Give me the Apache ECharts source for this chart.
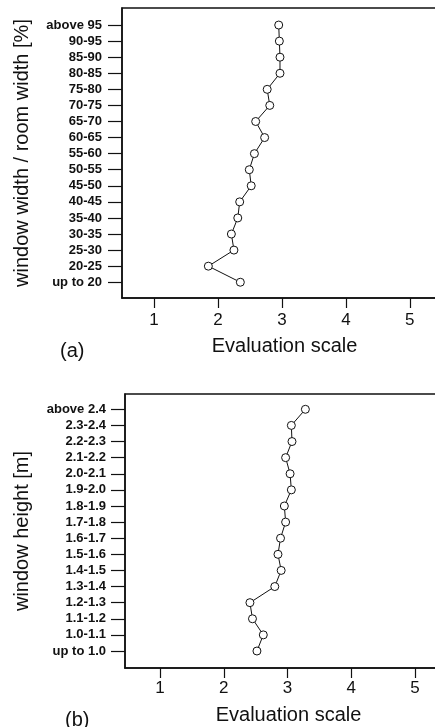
<!DOCTYPE html>
<html>
<head>
<meta charset="utf-8">
<title>Evaluation scale</title>
<script src="https://cdn.jsdelivr.net/npm/echarts@6/dist/echarts.min.js"></script>
<style>
  html, body { margin: 0; padding: 0; background: #fff; }
  #chart { width: 435px; height: 727px; }
</style>
</head>
<body>
<div id="chart"></div>
<script>
  'use strict'

  /*---- data (listed bottom to top) ----*/
  var widthCats = ['up to 20', '20-25', '25-30', '30-35', '35-40', '40-45', '45-50', '50-55',
    '55-60', '60-65', '65-70', '70-75', '75-80', '80-85', '85-90', '90-95', 'above 95'];
  var widthVals = [2.35, 1.85, 2.25, 2.21, 2.31, 2.34, 2.52, 2.49,
    2.57, 2.73, 2.59, 2.81, 2.77, 2.97, 2.97, 2.96, 2.95];

  var heightCats = ['up to 1.0', '1.0-1.1', '1.1-1.2', '1.2-1.3', '1.3-1.4', '1.4-1.5', '1.5-1.6', '1.6-1.7',
    '1.7-1.8', '1.8-1.9', '1.9-2.0', '2.0-2.1', '2.1-2.2', '2.2-2.3', '2.3-2.4', 'above 2.4'];
  var heightVals = [2.52, 2.62, 2.45, 2.41, 2.80, 2.90, 2.85, 2.89,
    2.97, 2.95, 3.06, 3.04, 2.97, 3.07, 3.06, 3.28];

  var xTicks = [1, 2, 3, 4, 5];
  /*---- end data ----*/

  var FONT = '"Liberation Sans", Arial, Helvetica, sans-serif';

  function pairs(vals) {
    return vals.map(function (v, i) { return [v, i]; });
  }
  function idxList(cats) {
    return cats.map(function (c, i) { return i; });
  }

  function xAxisOpt(gridIndex, min, max, margin, gap) {
    return {
      type: 'value',
      gridIndex: gridIndex,
      position: 'bottom',
      min: min,
      max: max,
      name: 'Evaluation scale',
      nameLocation: 'middle',
      nameGap: gap,
      nameTextStyle: { fontFamily: FONT, fontSize: 20, color: '#111', padding: [0, 14, 0, 0] },
      axisLine: { show: true, onZero: false, lineStyle: { color: '#111', width: 1.5 } },
      axisTick: { show: true, customValues: xTicks, length: 10, inside: false, lineStyle: { color: '#111', width: 1.2 } },
      axisLabel: { customValues: xTicks, margin: margin, fontFamily: FONT, fontSize: 17, color: '#111' },
      splitLine: { show: false }
    };
  }

  function yAxisOpt(gridIndex, cats, min, max, name, gap, margin) {
    return {
      type: 'value',
      gridIndex: gridIndex,
      position: 'left',
      min: min,
      max: max,
      name: name,
      nameLocation: 'middle',
      nameGap: gap,
      nameTextStyle: { fontFamily: FONT, fontSize: 20, color: '#111' },
      axisLine: { show: true, onZero: false, lineStyle: { color: '#111', width: 1.5 } },
      axisTick: { show: true, customValues: idxList(cats), length: 14, inside: false, lineStyle: { color: '#111', width: 1.2 } },
      axisLabel: {
        customValues: idxList(cats),
        margin: margin,
        fontFamily: FONT,
        fontSize: 13,
        fontWeight: 'bold',
        color: '#111',
        formatter: function (v) { return cats[Math.round(v)]; }
      },
      splitLine: { show: false }
    };
  }

  function lineSeries(xi, yi, vals) {
    return {
      type: 'line',
      xAxisIndex: xi,
      yAxisIndex: yi,
      data: pairs(vals),
      symbol: 'circle',
      symbolSize: 8,
      showAllSymbol: true,
      itemStyle: { color: '#fff', borderColor: '#111', borderWidth: 1 },
      lineStyle: { color: '#111', width: 1 },
      emphasis: { disabled: true },
      animation: false
    };
  }

  var chart = echarts.init(document.getElementById('chart'), null, { renderer: 'canvas' });

  chart.setOption({
    backgroundColor: '#fff',
    animation: false,
    title: [
      { text: '(a)', left: 55, top: 336, textStyle: { fontFamily: FONT, fontSize: 20, fontWeight: 'normal', color: '#111' } },
      { text: '(b)', left: 60, top: 705, textStyle: { fontFamily: FONT, fontSize: 20, fontWeight: 'normal', color: '#111' } }
    ],
    grid: [
      { left: 122, top: 8, width: 339, height: 290, outerBoundsMode: 'none', containLabel: false,
        show: true, borderColor: '#111', borderWidth: 1.5, backgroundColor: 'transparent' },
      { left: 125, top: 394, width: 341, height: 274, outerBoundsMode: 'none', containLabel: false,
        show: true, borderColor: '#111', borderWidth: 1.5, backgroundColor: 'transparent' }
    ],
    xAxis: [
      xAxisOpt(0, 0.5, 5.8, 14, 38),
      xAxisOpt(1, 0.45, 5.8, 12, 37)
    ],
    yAxis: [
      yAxisOpt(0, widthCats, -0.98, 17.06, 'window width / room width [%]', 90, 20),
      yAxisOpt(1, heightCats, -1.055, 15.95, 'window height [m]', 93, 19)
    ],
    series: [
      lineSeries(0, 0, widthVals),
      lineSeries(1, 1, heightVals)
    ]
  });
</script>
</body>
</html>
